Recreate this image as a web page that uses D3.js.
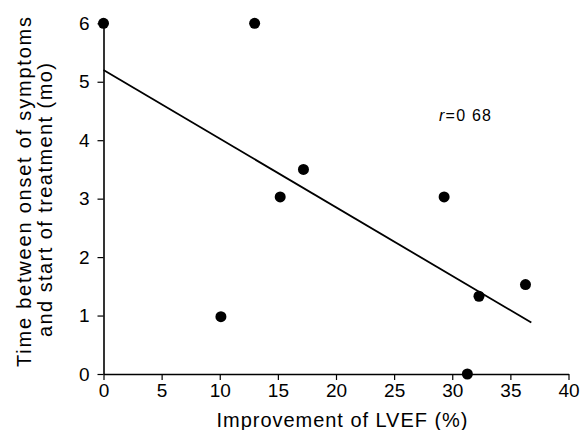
<!DOCTYPE html>
<html>
<head>
<meta charset="utf-8">
<script src="https://cdn.jsdelivr.net/npm/d3@7"></script>
<style>
  body { margin: 0; background: #fff; }
  svg { display: block; font-family: "Liberation Sans", Arial, sans-serif; }
</style>
</head>
<body>
<svg width="581" height="430"></svg>
<script>
// improvement of LVEF (%) vs time to treatment (mo)
var lvef = [0, 13, 15.2, 17.2, 10.1, 29.3, 31.3, 32.3, 36.3];
var months = [6, 6, 3.03, 3.5, 0.98, 3.03, 0, 1.33, 1.53];

// regression line ends
var fitX = [0, 36.8];
var fitY = [5.2, 0.88];

var xTicks = [0, 5, 10, 15, 20, 25, 30, 35, 40];
var yTicks = [0, 1, 2, 3, 4, 5, 6];

var svg = d3.select("svg");

var x = d3.scaleLinear().domain([0, 40]).range([103.5, 568.5]);
var y = d3.scaleLinear().domain([0, 6]).range([374, 23.3]);

svg.append("g")
    .attr("transform", "translate(0," + y(0) + ")")
    .call(d3.axisBottom(x).tickValues(xTicks).tickFormat(d3.format("d"))
        .tickSize(6).tickSizeOuter(0).tickPadding(4));

svg.append("g")
    .attr("transform", "translate(" + x(0) + ",0)")
    .call(d3.axisLeft(y).tickValues(yTicks).tickFormat(d3.format("d"))
        .tickSize(6).tickSizeOuter(0).tickPadding(8));

svg.selectAll(".domain").attr("stroke", "#000").attr("stroke-width", 1.6);
svg.selectAll(".tick line").attr("stroke", "#000").attr("stroke-width", 1.2);
svg.selectAll(".tick text")
    .attr("fill", "#000")
    .style("font-size", "19px")
    .style("font-family", "Liberation Sans, Arial, sans-serif");

// fit line
var fit = fitX.map(function(d, i) { return [d, fitY[i]]; });
svg.append("path")
    .datum(fit)
    .attr("fill", "none")
    .attr("stroke", "#000")
    .attr("stroke-width", 1.8)
    .attr("d", d3.line()
        .x(function(d) { return x(d[0]); })
        .y(function(d) { return y(d[1]); }));

// points
svg.selectAll(".dot")
    .data(lvef)
    .enter()
    .append("circle")
    .attr("class", "dot")
    .attr("cx", function(d) { return x(d); })
    .attr("cy", function(d, i) { return y(months[i]); })
    .attr("r", 5.5)
    .attr("fill", "#000");

// r value
var rt = svg.append("text")
    .attr("x", 439)
    .attr("y", 121)
    .attr("textLength", 52)
    .attr("lengthAdjust", "spacing")
    .style("font-size", "16px")
    .attr("fill", "#000");
rt.append("tspan").style("font-style", "italic").text("r");
rt.append("tspan").text("=0 68");

// axis titles
svg.append("text")
    .attr("x", 342)
    .attr("y", 426.5)
    .attr("text-anchor", "middle")
    .attr("textLength", 251)
    .attr("lengthAdjust", "spacing")
    .style("font-size", "20px")
    .attr("fill", "#000")
    .text("Improvement of LVEF (%)");

svg.append("text")
    .attr("transform", "translate(31,192) rotate(-90)")
    .attr("text-anchor", "middle")
    .attr("textLength", 350)
    .attr("lengthAdjust", "spacing")
    .style("font-size", "20px")
    .attr("fill", "#000")
    .text("Time between onset of symptoms");

svg.append("text")
    .attr("transform", "translate(52,200) rotate(-90)")
    .attr("text-anchor", "middle")
    .attr("textLength", 274)
    .attr("lengthAdjust", "spacing")
    .style("font-size", "20px")
    .attr("fill", "#000")
    .text("and start of treatment (mo)");
</script>
</body>
</html>
